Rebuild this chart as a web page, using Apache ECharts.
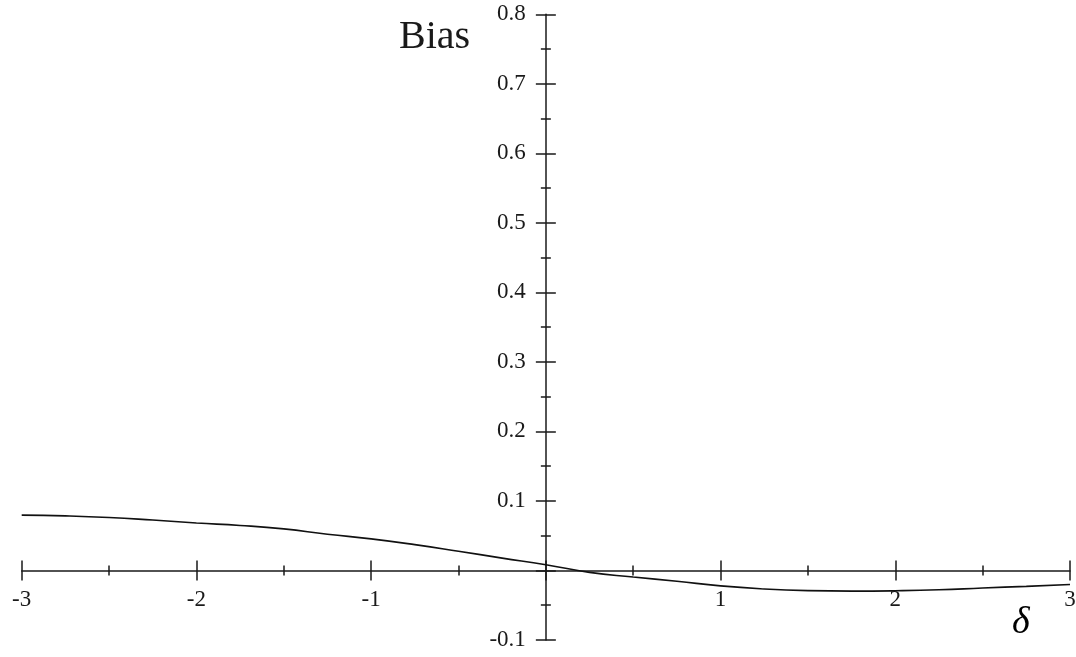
<!DOCTYPE html>
<html>
<head>
<meta charset="utf-8">
<script src="https://cdn.jsdelivr.net/npm/echarts@6/dist/echarts.min.js"></script>
<style>
  html, body { margin: 0; padding: 0; background: #fff; }
  #chart { width: 1076px; height: 657px; }
</style>
</head>
<body>
<div id="chart"></div>
<script>
// Curve, delta vs bias.
const deltaValues = [-3, -2.75, -2.5, -2.25, -2, -1.75, -1.5, -1.25, -1, -0.75, -0.5, -0.25,
    0, 0.25, 0.5, 0.75, 1, 1.25, 1.5, 1.75, 2, 2.25, 2.5, 2.75, 3];
const biasValues = [0.0796, 0.0785, 0.0762, 0.0725, 0.0683, 0.0648, 0.0598, 0.0522, 0.0455, 0.0372, 0.0277, 0.0178,
    0.0082, -0.0027, -0.0094, -0.0155, -0.0222, -0.0266, -0.0290, -0.0297, -0.0292, -0.0278, -0.0252, -0.0228, -0.0201];

const xRange = [-3, 3];
const yRange = [-0.1, 0.8];

const font = '"Liberation Serif", "DejaVu Serif", serif';
const ink = '#1a1a1a';

// Grid box in pixels; axes cross at (0, 0) inside it.
const gridLeft = 21.7, gridTop = 14.3, gridWidth = 1048.3, gridHeight = 625.7;
const yAxisOffset = -gridWidth * (0 - xRange[0]) / (xRange[1] - xRange[0]);
const xAxisOffset = -gridHeight * (0 - yRange[0]) / (yRange[1] - yRange[0]);

const hideZero = (v) => {
    const r = Math.round(v * 10) / 10;
    return r === 0 ? '' : String(r);
};

// Two axes per dimension so the ticks cross the axis line (one outside, one inside).
const xAxisBase = (inside) => ({
    type: 'value',
    position: 'bottom',
    offset: xAxisOffset,
    min: xRange[0],
    max: xRange[1],
    interval: 1,
    splitLine: {show: false},
    axisLine: {show: !inside, onZero: false, lineStyle: {color: ink, width: 1.5}},
    axisTick: {show: true, inside: inside, length: 10, lineStyle: {color: ink, width: 1.5}},
    minorTick: {show: true, splitNumber: 2, length: 5, lineStyle: {color: ink, width: 1.5}},
    axisLabel: {
        show: !inside,
        margin: 18,
        showMinLabel: true,
        showMaxLabel: true,
        hideOverlap: false,
        color: ink,
        fontFamily: font,
        fontSize: 23,
        formatter: hideZero
    }
});

const yAxisBase = (inside) => ({
    type: 'value',
    position: 'left',
    offset: yAxisOffset,
    min: yRange[0],
    max: yRange[1],
    interval: 0.1,
    splitLine: {show: false},
    axisLine: {show: !inside, onZero: false, lineStyle: {color: ink, width: 1.5}},
    axisTick: {show: true, inside: inside, length: 10, lineStyle: {color: ink, width: 1.5}},
    minorTick: {show: true, splitNumber: 2, length: 5, lineStyle: {color: ink, width: 1.5}},
    axisLabel: {
        show: !inside,
        margin: 20,
        showMinLabel: true,
        showMaxLabel: true,
        hideOverlap: false,
        color: ink,
        fontFamily: font,
        fontSize: 23,
        formatter: hideZero
    }
});

const chart = echarts.init(document.getElementById('chart'), null, {renderer: 'canvas'});

chart.setOption({
    animation: false,
    backgroundColor: '#fff',
    grid: {
        left: gridLeft,
        top: gridTop,
        width: gridWidth,
        height: gridHeight,
        containLabel: false,
        outerBoundsMode: 'none'
    },
    xAxis: [xAxisBase(false), xAxisBase(true)],
    yAxis: [yAxisBase(false), yAxisBase(true)],
    graphic: [
        {type: 'text', left: 399, top: 17, style: {text: 'Bias', font: '40px ' + font, fill: ink}},
        {type: 'text', left: 1012, top: 604, style: {text: 'δ', font: 'italic 38px ' + font, fill: '#000'}}
    ],
    series: [{
        type: 'line',
        xAxisIndex: 0,
        yAxisIndex: 0,
        smooth: true,
        showSymbol: false,
        lineStyle: {color: '#111', width: 1.6},
        data: deltaValues.map((d, i) => [d, biasValues[i]])
    }]
});
</script>
</body>
</html>
